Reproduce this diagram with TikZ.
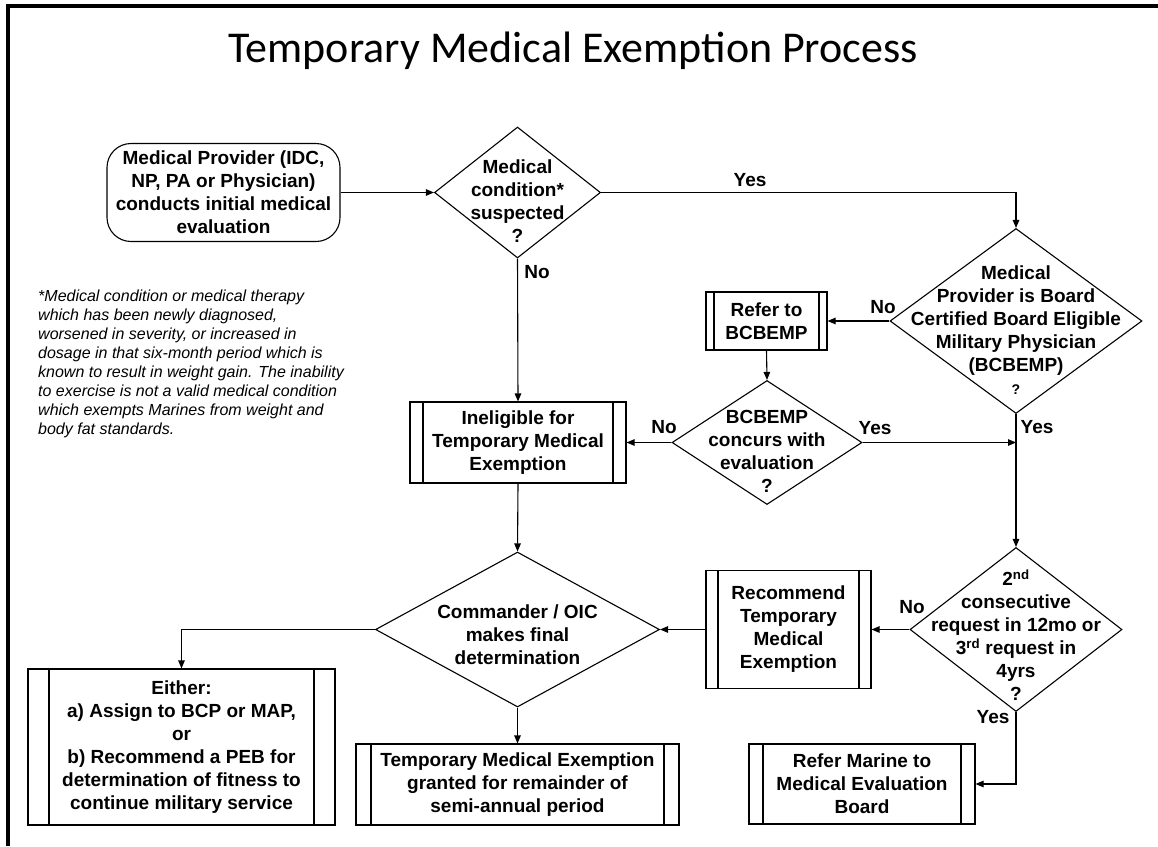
\documentclass[tikz,border=0pt]{standalone}
\usepackage{fontspec}
\setmainfont{Liberation Sans}
\newfontfamily\titlefont{Carlito}
\usetikzlibrary{shapes.geometric,arrows.meta}

\begin{document}
\begin{tikzpicture}[x=1pt,y=-1pt,
  every node/.style={inner sep=0pt},
  txt/.style={font=\fontsize{19}{23}\selectfont\bfseries, align=center},
  box/.style={draw, line width=1.1pt, rectangle, txt},
  proc/.style={box, path picture={
      \draw[line width=1.1pt]
        ([xshift=#1]path picture bounding box.north west) -- ([xshift=#1]path picture bounding box.south west)
        ([xshift=-#1]path picture bounding box.north east) -- ([xshift=-#1]path picture bounding box.south east);}},
  dec/.style={draw, line width=1.1pt, diamond},
  lbl/.style={txt},
  conn/.style={line width=1.1pt, -{Triangle[length=8pt,width=6.5pt]}},
  plain/.style={line width=1.1pt},
]
\useasboundingbox (0,0) rectangle (1158,846);

% slide frame
\draw[line width=3.5pt] (8,846) -- (8,6) -- (1158,6);

% title
\node[font=\titlefont\fontsize{44}{50}\selectfont, anchor=base] (title) at (573,62)
  {Temporary Medical Exemption Process};

% footnote
\node[anchor=north west, align=left, font=\fontsize{16}{19}\selectfont\itshape] (note) at (38,290)
  {*Medical condition or medical therapy\\
   which has been newly diagnosed,\\
   worsened in severity, or increased in\\
   dosage in that six-month period which is\\
   known to result in weight gain. The inability\\
   to exercise is not a valid medical condition\\
   which exempts Marines from weight and\\
   body fat standards.};

% start
\node[box, rounded corners=24pt, minimum width=233pt, minimum height=98pt] (start) at (223.5,192.5)
  {Medical Provider (IDC,\\NP, PA or Physician)\\conducts initial medical\\evaluation};

% decisions
\node[dec, minimum width=166pt, minimum height=131pt,
  label={[txt, yshift=-9pt]center:{Medical\\condition*\\suspected\\?}}] (d1) at (517.5,192.5) {};
\node[dec, minimum width=252pt, minimum height=185pt,
  label={[txt, yshift=-9pt]center:{Medical\\Provider is Board\\Certified Board Eligible\\Military Physician\\(BCBEMP)\\{\fontsize{14}{16}\selectfont ?}}}] (d2) at (1016,321) {};
\node[dec, minimum width=190pt, minimum height=124pt,
  label={[txt, yshift=-9pt]center:{BCBEMP\\concurs with\\evaluation\\?}}] (d3) at (767,442.5) {};
\node[dec, minimum width=212pt, minimum height=164pt,
  label={[txt, yshift=-6pt]center:{2\textsuperscript{nd}\\consecutive\\request in 12mo or\\3\textsuperscript{rd} request in\\4yrs\\?}}] (d4) at (1016,629.5) {};
\node[dec, minimum width=284pt, minimum height=155pt,
  label={[txt, yshift=-5pt]center:{Commander / OIC\\makes final\\determination}}] (d5) at (517.5,629.5) {};

% process boxes
\node[proc=8pt, minimum width=121pt, minimum height=58pt] (refer) at (766.5,321)
  {Refer to\\BCBEMP};
\node[proc=13pt, minimum width=216pt, minimum height=81pt] (inel) at (518,442.5)
  {Ineligible for\\Temporary Medical\\Exemption};
\node[proc=12pt, minimum width=165pt, minimum height=118pt] (rec) at (788.5,629.5)
  {Recommend\\Temporary\\Medical\\Exemption};
\node[proc=21pt, minimum width=307pt, minimum height=156pt] (either) at (181.5,747)
  {Either:\\a) Assign to BCP or MAP,\\or\\b) Recommend a PEB for\\determination of fitness to\\continue military service};
\node[proc=15pt, minimum width=323pt, minimum height=81pt] (temp) at (517.5,784.5)
  {Temporary Medical Exemption\\granted for remainder of\\semi-annual period};
\node[proc=14pt, minimum width=226pt, minimum height=80pt] (marine) at (862,784)
  {Refer Marine to\\Medical Evaluation\\Board};

% connectors
\draw[conn] (start.east) -- (d1.west);
\draw[conn] (d1.east) -| (d2.north);
\draw[conn] (d1.south) -- (inel.north);
\draw[conn] (d2.west) -- (refer.east);
\draw[conn] (refer.south) -- (d3.north);
\draw[conn] (d3.west) -- (inel.east);
\coordinate (join) at (d2.south |- d3.east);
\draw[conn] (d3.east) -- (join);
\draw[conn] (d2.south) -- (d4.north);
\draw[conn] (d4.west) -- (rec.east);
\draw[conn] (rec.west) -- (d5.east);
\draw[conn] (inel.south) -- (d5.north);
\draw[conn] (d5.west) -| (either.north);
\draw[conn] (d5.south) -- (temp.north);
\draw[conn] (d4.south) |- (marine.east);

% branch labels
\node[lbl] (yes1) at (750,180) {Yes};
\node[lbl] (no1) at (537,272) {No};
\node[lbl] (no2) at (883,307) {No};
\node[lbl] (no3) at (664,427) {No};
\node[lbl] (yes2) at (875,428) {Yes};
\node[lbl] (yes3) at (1037,427) {Yes};
\node[lbl] (no4) at (912,607) {No};
\node[lbl] (yes4) at (993,717) {Yes};
\end{tikzpicture}
\end{document}
